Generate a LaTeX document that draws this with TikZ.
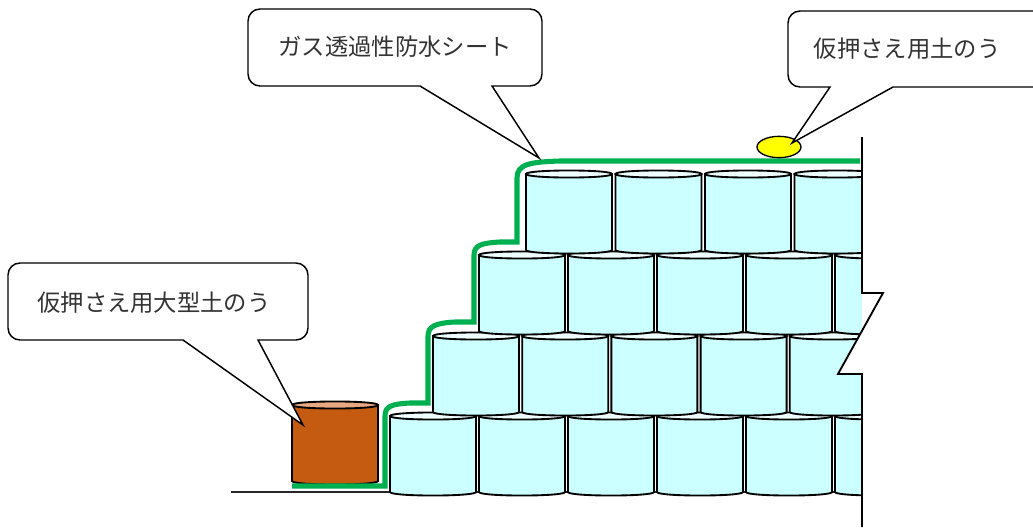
\documentclass[tikz,border=0pt]{standalone}
\usepackage{fontspec}
\usetikzlibrary{shapes.geometric}
\newfontfamily\jp{Noto Sans CJK JP}
\definecolor{drumfill}{HTML}{CCFFFF}
\definecolor{drumtop}{HTML}{EFFFFF}
\definecolor{bigbag}{HTML}{C55A11}
\definecolor{bigbagtop}{HTML}{E8A882}
\definecolor{sheet}{HTML}{00B050}
\definecolor{smallbag}{HTML}{FFFF00}
\definecolor{labeltext}{HTML}{333333}

\tikzset{
  drumline/.style={draw=black, line width=1.4pt},
  sheetline/.style={draw=sheet, line width=3.8pt},
  bubble/.style={draw=black, fill=white, line width=1.1pt, line join=miter},
  bubbletext/.style={font=\jp\fontsize{17.5pt}{20pt}\selectfont, text=labeltext, inner sep=0pt},
  edgeline/.style={draw=black, line width=1.4pt},
}

% one sandbag drum: left x, top y, width, height, body colour, top colour
\newcommand\drumat[6]{%
  \filldraw[drumline, fill=#5]
    (#1,#2) -- (#1,{#2+#4})
    .. controls (#1,{#2+#4+4.7}) and ({#1+#3},{#2+#4+4.7}) .. ({#1+#3},{#2+#4})
    -- ({#1+#3},#2) -- cycle;
  \filldraw[drumline, fill=#6]
    (#1,#2) .. controls (#1,{#2-4.7}) and ({#1+#3},{#2-4.7}) .. ({#1+#3},#2)
    .. controls ({#1+#3},{#2+4.7}) and (#1,{#2+4.7}) .. (#1,#2) -- cycle;
}

% rounded label box with a pointer: left, top, right, bottom, pointer base x1, x2, tip
\newcommand\speechbubble[7]{%
  \filldraw[bubble]
    (#5,#4) -- ({#1+12},#4)
    .. controls ({#1+5.4},#4) and (#1,{#4-5.4}) .. (#1,{#4-12})
    -- (#1,{#2+12})
    .. controls (#1,{#2+5.4}) and ({#1+5.4},#2) .. ({#1+12},#2)
    -- ({#3-12},#2)
    .. controls ({#3-5.4},#2) and (#3,{#2+5.4}) .. (#3,{#2+12})
    -- (#3,{#4-12})
    .. controls (#3,{#4-5.4}) and ({#3-5.4},#4) .. ({#3-12},#4)
    -- (#6,#4) -- (#7) -- cycle;
}

\begin{document}
\begin{tikzpicture}[x=0.75pt, y=-0.75pt]
\useasboundingbox (0,0) rectangle (1033,529);
\clip (0,0) rectangle (1033,529);

% ground line
\coordinate (g0) at (231,492);
\coordinate (g1) at (862,492);
\draw[line width=1.5pt, draw=black!85] (g0) -- (g1);

% stacked drums, cut off at the broken section line
\begin{scope}
  \clip (0,0) -- (862,0) -- (862,331) -- (838,374) -- (862,374) -- (862,529) -- (0,529) -- cycle;
  \foreach \i in {0,...,5} { \drumat{390+89*\i}{416}{86}{76}{drumfill}{drumtop} }
  \foreach \i in {0,...,4} { \drumat{433+89.2*\i}{336}{86}{76}{drumfill}{drumtop} }
  \foreach \i in {0,...,4} { \drumat{479+89*\i}{255}{86}{76}{drumfill}{drumtop} }
  \foreach \i in {0,...,4} { \drumat{526+89.5*\i}{174}{86}{76}{drumfill}{drumtop} }
\end{scope}

% large temporary weight bag
\drumat{292}{405}{86}{76}{bigbag}{bigbagtop}

% gas permeable waterproof sheet
\coordinate (s0) at (292,486);
\coordinate (s1) at (860,161);
\draw[sheetline]
  (s0) -- (385,486) -- (385,416)
  .. controls (385,406) and (392,404) .. (410,403) -- (428,403) -- (428,336)
  .. controls (428,326) and (436,323) .. (455,322) -- (474,322) -- (474,255)
  .. controls (474,245) and (482,243) .. (500,242) -- (517,242) -- (517,178)
  .. controls (517,164) and (530,162) .. (560,161) -- (s1);

% small temporary weight bag
\node[ellipse, draw=black, line width=1pt, fill=smallbag, minimum width=33pt, minimum height=16pt, inner sep=0pt] (bag) at (779,147) {};

% section edge with break mark
\coordinate (e0) at (862,137);
\coordinate (e1) at (862,527);
\draw[edgeline] (e0) -- (862,293) -- (883,293) -- (838,374) -- (862,374) -- (e1);

% labels
\coordinate (tipA) at (539,158);
\speechbubble{248}{9}{542}{86}{420}{492}{tipA}
\node[bubbletext] (labA) at (395,47) {ガス透過性防水シート};

\coordinate (tipB) at (792,143);
\speechbubble{788}{11}{1045}{87}{830}{893}{tipB}
\node[bubbletext] (labB) at (907,49) {仮押さえ用土のう};

\coordinate (tipC) at (303,425);
\speechbubble{8}{263}{308}{340}{183}{258}{tipC}
\node[bubbletext] (labC) at (154,303) {仮押さえ用大型土のう};
\end{tikzpicture}
\end{document}
